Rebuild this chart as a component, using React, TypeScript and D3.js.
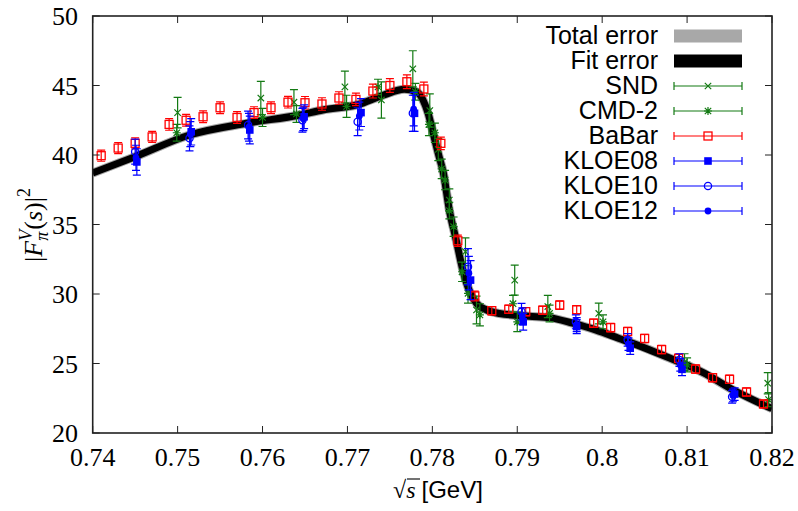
import React from 'react';
import * as d3 from 'd3';

const W = 798, H = 511;
const M = { left: 92.7, right: 772, top: 16, bottom: 433 };

const xTicks = [0.74, 0.75, 0.76, 0.77, 0.78, 0.79, 0.8, 0.81, 0.82];
const xTickLabels = ['0.74', '0.75', '0.76', '0.77', '0.78', '0.79', '0.8', '0.81', '0.82'];
const yTicks = [20, 25, 30, 35, 40, 45, 50];
const yTickLabels = ['20', '25', '30', '35', '40', '45', '50'];

// fit curve
const curveX = [0.74, 0.745, 0.7514, 0.7581, 0.7644, 0.7671, 0.7711, 0.7742, 0.7767, 0.7781, 0.7789, 0.7795, 0.7801, 0.7807, 0.7813, 0.782, 0.7828, 0.7836, 0.7844, 0.7852, 0.7864, 0.7879, 0.7914, 0.7938, 0.7965, 0.7993, 0.802, 0.8036, 0.8075, 0.8119, 0.8154, 0.82];
const curveY = [38.7, 39.88, 41.44, 42.28, 42.88, 43.24, 43.6, 44.3, 44.73, 44.55, 43.96, 43.0, 41.56, 40.1, 38.7, 36.04, 33.9, 31.7, 30.17, 29.33, 28.85, 28.6, 28.4, 28.3, 27.9, 27.4, 26.8, 26.45, 25.5, 24.34, 23.1, 21.75];

// SND
const sndX = [0.75, 0.7598, 0.7637, 0.7697, 0.774, 0.7777, 0.7797, 0.7807, 0.782, 0.7839, 0.7852, 0.7897, 0.7936, 0.7996, 0.8097, 0.8195];
const sndY = [43.05, 44.1, 43.8, 44.9, 43.96, 46.2, 43.2, 40.4, 36.76, 33.04, 28.85, 31.0, 29.1, 28.6, 25.1, 23.58];
const sndE = [1.1, 1.2, 0.9, 1.14, 1.3, 1.3, 1.2, 0.8, 0.8, 1.0, 1.0, 1.08, 0.8, 0.75, 0.6, 0.77];

// CMD-2
const cmdX = [0.7499, 0.76, 0.764, 0.7699, 0.7736, 0.778, 0.7796, 0.7803, 0.7811, 0.7815, 0.782, 0.7825, 0.7835, 0.7842, 0.7856, 0.7895, 0.79, 0.7938, 0.8001, 0.81, 0.8196];
const cmdY = [41.6, 42.7, 42.95, 43.5, 44.9, 44.55, 42.2, 41.6, 39.0, 38.2, 36.0, 34.84, 31.6, 30.05, 28.5, 29.3, 28.0, 28.6, 28.0, 24.9, 22.4];
const cmdE = [0.6, 0.65, 0.6, 0.8, 0.55, 0.6, 0.8, 0.7, 0.7, 0.7, 0.6, 0.7, 0.7, 0.7, 0.8, 0.6, 0.7, 0.6, 0.5, 0.5, 0.5];

// BaBar
const babarX = [0.741, 0.743, 0.745, 0.747, 0.749, 0.751, 0.753, 0.755, 0.757, 0.759, 0.761, 0.763, 0.765, 0.767, 0.769, 0.771, 0.773, 0.775, 0.777, 0.779, 0.781, 0.783, 0.785, 0.787, 0.789, 0.791, 0.793, 0.795, 0.797, 0.799, 0.801, 0.803, 0.805, 0.807, 0.809, 0.811, 0.813, 0.815, 0.817, 0.819];
const babarY = [39.95, 40.5, 40.84, 41.3, 42.2, 42.5, 42.75, 43.4, 42.7, 43.05, 43.4, 43.8, 43.76, 43.67, 44.1, 44.0, 44.6, 45.0, 45.27, 44.75, 40.84, 33.83, 29.86, 28.8, 28.9, 28.73, 28.83, 29.2, 28.87, 27.9, 27.58, 27.3, 26.8, 26.0, 25.37, 24.6, 23.98, 23.86, 22.95, 22.09];
const babarE = [0.4, 0.4, 0.4, 0.4, 0.42, 0.42, 0.42, 0.42, 0.42, 0.42, 0.42, 0.42, 0.45, 0.45, 0.45, 0.45, 0.5, 0.5, 0.5, 0.5, 0.45, 0.4, 0.35, 0.3, 0.3, 0.3, 0.3, 0.3, 0.3, 0.3, 0.3, 0.3, 0.3, 0.3, 0.3, 0.3, 0.3, 0.3, 0.3, 0.28];

// KLOE08
const k08X = [0.7452, 0.7516, 0.7585, 0.7649, 0.7716, 0.7779, 0.7845, 0.7907, 0.797, 0.8033, 0.8094, 0.8156];
const k08Y = [39.5, 41.67, 41.8, 42.75, 43.05, 43.0, 31.0, 28.0, 27.65, 26.1, 24.58, 22.8];
const k08E = [0.95, 0.95, 1.0, 0.85, 1.0, 1.3, 1.4, 0.6, 0.5, 0.45, 0.45, 0.45];
// KLOE10
const k10X = [0.745, 0.7514, 0.7583, 0.7647, 0.7712, 0.7777, 0.7842, 0.7905, 0.7969, 0.803, 0.8091, 0.8153];
const k10Y = [40.24, 41.2, 42.16, 42.5, 42.4, 43.0, 31.96, 28.73, 28.0, 26.7, 25.25, 22.6];
const k10E = [0.9, 0.9, 1.0, 0.85, 1.0, 1.3, 1.3, 0.6, 0.5, 0.45, 0.45, 0.45];
// KLOE12
const k12X = [0.7451, 0.7515, 0.7584, 0.7648, 0.7714, 0.7778, 0.7843, 0.7906, 0.797, 0.8031, 0.8092, 0.8154];
const k12Y = [39.8, 41.5, 42.0, 42.6, 42.8, 43.3, 31.5, 28.4, 27.8, 26.4, 24.9, 22.7];
const k12E = [0.9, 0.9, 1.0, 0.85, 1.0, 1.2, 1.2, 0.6, 0.5, 0.45, 0.45, 0.45];

const GREEN = '#137a13';
const RED = '#ff0000';
const BLUE = '#0000ff';

const x = d3.scaleLinear().domain([0.74, 0.82]).range([M.left, M.right]);
const y = d3.scaleLinear().domain([20, 50]).range([M.bottom, M.top]);

type Mk = 'x' | 'star' | 'osq' | 'fsq' | 'ocirc' | 'fcirc';

function Marker({ cx, cy, type, color }: { cx: number; cy: number; type: Mk; color: string }) {
  const s = 3.2;
  switch (type) {
    case 'x':
      return <path d={`M${cx - s},${cy - s}L${cx + s},${cy + s}M${cx - s},${cy + s}L${cx + s},${cy - s}`} stroke={color} strokeWidth={1.2} fill="none" />;
    case 'star':
      return <path d={`M${cx - s},${cy - s}L${cx + s},${cy + s}M${cx - s},${cy + s}L${cx + s},${cy - s}M${cx - s - 0.8},${cy}L${cx + s + 0.8},${cy}M${cx},${cy - s - 0.8}L${cx},${cy + s + 0.8}`} stroke={color} strokeWidth={1.2} fill="none" />;
    case 'osq':
      return <rect x={cx - 4} y={cy - 4} width={8} height={8} stroke={color} strokeWidth={1.3} fill="none" />;
    case 'fsq':
      return <rect x={cx - 3.8} y={cy - 3.8} width={7.6} height={7.6} fill={color} />;
    case 'ocirc':
      return <circle cx={cx} cy={cy} r={3.6} stroke={color} strokeWidth={1.3} fill="none" />;
    case 'fcirc':
      return <circle cx={cx} cy={cy} r={3.4} fill={color} />;
  }
  return null;
}

function Series({ xs, ys, es, type, color }: { xs: number[]; ys: number[]; es: number[]; type: Mk; color: string }) {
  const cap = 4;
  return (
    <g>
      {xs.map((xv, i) => {
        const cx = x(xv);
        const cy = y(ys[i]);
        const y0 = y(ys[i] - es[i]);
        const y1 = y(ys[i] + es[i]);
        return (
          <g key={i}>
            <path d={`M${cx},${y0}L${cx},${y1}M${cx - cap},${y0}L${cx + cap},${y0}M${cx - cap},${y1}L${cx + cap},${y1}`} stroke={color} strokeWidth={1.2} fill="none" />
            <Marker cx={cx} cy={cy} type={type} color={color} />
          </g>
        );
      })}
    </g>
  );
}

const legendItems: { label: string; type: Mk; color: string }[] = [
  { label: 'SND', type: 'x', color: GREEN },
  { label: 'CMD-2', type: 'star', color: GREEN },
  { label: 'BaBar', type: 'osq', color: RED },
  { label: 'KLOE08', type: 'fsq', color: BLUE },
  { label: 'KLOE10', type: 'ocirc', color: BLUE },
  { label: 'KLOE12', type: 'fcirc', color: BLUE },
];

export default function App() {
  const pts: [number, number][] = curveX.map((v, i) => [v, curveY[i]]);
  const line = d3.line<[number, number]>().x(d => x(d[0])).y(d => y(d[1])).curve(d3.curveMonotoneX);
  const pathD = line(pts) || '';
  const serif = '"Liberation Serif", "Times New Roman", serif';
  const sans = '"Liberation Sans", Arial, Helvetica, sans-serif';
  const tick = 7;
  const legX0 = 674, legX1 = 742, legTextX = 658;
  const legY0 = 36, legDY = 25;

  return (
    <svg width={W} height={H} style={{ position: 'absolute', left: 0, top: 0, background: '#fff' }}>
      <defs>
        <clipPath id="plotclip">
          <rect x={M.left} y={M.top} width={M.right - M.left} height={M.bottom - M.top} />
        </clipPath>
      </defs>
      <rect x={0} y={0} width={W} height={H} fill="#fff" />

      {/* bands */}
      <g clipPath="url(#plotclip)">
        <path d={pathD} stroke="#a8a8a8" strokeWidth={9} fill="none" strokeLinejoin="round" />
        <path d={pathD} stroke="#000" strokeWidth={7} fill="none" strokeLinejoin="round" />
      </g>

      {/* data */}
      <g clipPath="url(#plotclip)">
        <Series xs={sndX} ys={sndY} es={sndE} type="x" color={GREEN} />
        <Series xs={cmdX} ys={cmdY} es={cmdE} type="star" color={GREEN} />
        <Series xs={babarX} ys={babarY} es={babarE} type="osq" color={RED} />
        <Series xs={k08X} ys={k08Y} es={k08E} type="fsq" color={BLUE} />
        <Series xs={k10X} ys={k10Y} es={k10E} type="ocirc" color={BLUE} />
        <Series xs={k12X} ys={k12Y} es={k12E} type="fcirc" color={BLUE} />
      </g>

      {/* frame and ticks */}
      <rect x={M.left} y={M.top} width={M.right - M.left} height={M.bottom - M.top} fill="none" stroke="#222" strokeWidth={1.6} />
      {xTicks.map((t, i) => (
        <g key={'xt' + i}>
          <line x1={x(t)} x2={x(t)} y1={M.bottom} y2={M.bottom - tick} stroke="#222" strokeWidth={1} />
          <line x1={x(t)} x2={x(t)} y1={M.top} y2={M.top + tick} stroke="#222" strokeWidth={1} />
          <text x={x(t)} y={466} textAnchor="middle" fontFamily={serif} fontSize={26} fill="#000">{xTickLabels[i]}</text>
        </g>
      ))}
      {yTicks.map((t, i) => (
        <g key={'yt' + i}>
          <line x1={M.left} x2={M.left + tick} y1={y(t)} y2={y(t)} stroke="#222" strokeWidth={1} />
          <line x1={M.right} x2={M.right - tick} y1={y(t)} y2={y(t)} stroke="#222" strokeWidth={1} />
          <text x={78} y={y(t) + 9} textAnchor="end" fontFamily={serif} fontSize={26} fill="#000">{yTickLabels[i]}</text>
        </g>
      ))}

      {/* legend */}
      <g>
        <text x={legTextX} y={legY0 + 8} textAnchor="end" fontFamily={sans} fontSize={25} fill="#000">Total error</text>
        <rect x={legX0} y={legY0 - 6.5} width={legX1 - legX0} height={13} fill="#a8a8a8" />
        <text x={legTextX} y={legY0 + legDY + 8} textAnchor="end" fontFamily={sans} fontSize={25} fill="#000">Fit error</text>
        <rect x={legX0} y={legY0 + legDY - 6.5} width={legX1 - legX0} height={13} fill="#000" />
        {legendItems.map((it, i) => {
          const ly = legY0 + legDY * (i + 2);
          const mx = (legX0 + legX1) / 2;
          return (
            <g key={it.label}>
              <text x={legTextX} y={ly + 8} textAnchor="end" fontFamily={sans} fontSize={25} fill="#000">{it.label}</text>
              <path d={`M${legX0},${ly}L${legX1},${ly}M${legX0},${ly - 4}L${legX0},${ly + 4}M${legX1},${ly - 4}L${legX1},${ly + 4}`} stroke={it.color} strokeWidth={1.2} fill="none" />
              <Marker cx={mx} cy={ly} type={it.type} color={it.color} />
            </g>
          );
        })}
      </g>

      {/* y axis label */}
      <text transform="translate(42,225) rotate(-90)" textAnchor="middle" fontFamily={serif} fontSize={26} fill="#000">
        <tspan>|</tspan>
        <tspan fontStyle="italic">F</tspan>
        <tspan fontStyle="italic" fontSize={18} dy={6}>π</tspan>
        <tspan fontStyle="italic" fontSize={18} dx={-9} dy={-16}>V</tspan>
        <tspan dy={10}>(</tspan>
        <tspan fontStyle="italic">s</tspan>
        <tspan>)|</tspan>
        <tspan fontSize={18} dy={-12}>2</tspan>
      </text>

      {/* x axis label */}
      <text x={393} y={498} fontFamily={serif} fontSize={24} fill="#000">
        <tspan>√</tspan>
        <tspan fontStyle="italic">s</tspan>
        <tspan fontFamily={sans} dx={6}>[GeV]</tspan>
      </text>
      <line x1={407} x2={420} y1={479} y2={479} stroke="#000" strokeWidth={1.1} />
    </svg>
  );
}
